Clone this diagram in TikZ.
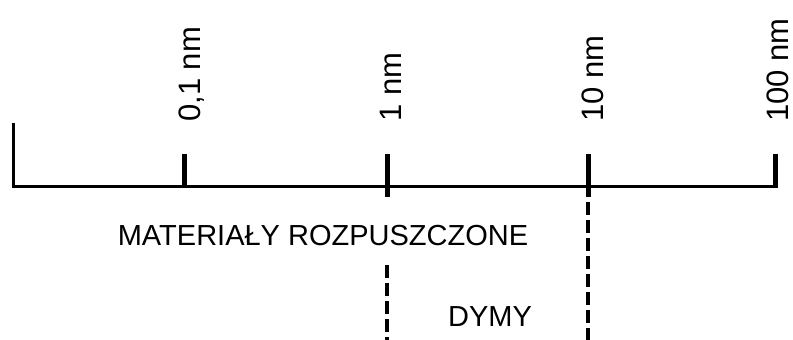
\documentclass[tikz,border=0pt]{standalone}
\usepackage{fontspec}
\setmainfont{Liberation Sans}
\begin{document}
\begin{tikzpicture}[x=1pt,y=-1pt,
  axisline/.style={line width=3pt},
  tickline/.style={line width=5pt},
  dashline/.style={line width=4.5pt,dash pattern=on 13pt off 5pt},
  scalelabel/.style={rotate=90,anchor=base west,inner sep=0pt,font=\fontsize{31}{36}\selectfont},
  rangelabel/.style={inner sep=0pt,font=\fontsize{29}{34}\selectfont}]
\useasboundingbox (0,0) rectangle (793,340);
% axis
\coordinate (L0) at (13,123);
\coordinate (L1) at (13,186);
\coordinate (R1) at (777,186);
\draw[axisline] (L0) -- (L1) -- (R1);
% ticks
\coordinate (a0) at (184,154); \coordinate (a1) at (184,186);
\coordinate (b0) at (387,154); \coordinate (b1) at (387,197);
\coordinate (c0) at (588,154); \coordinate (c1) at (588,197);
\coordinate (d0) at (775,154); \coordinate (d1) at (775,187.5);
\draw[tickline] (a0) -- (a1);
\draw[tickline] (b0) -- (b1);
\draw[tickline] (c0) -- (c1);
\draw[tickline] (d0) -- (d1);
% dashed boundaries
\coordinate (b2) at (387,265); \coordinate (b3) at (387,345);
\coordinate (c2) at (588,202); \coordinate (c3) at (588,345);
\draw[dashline] (b2) -- (b3);
\draw[dashline] (c2) -- (c3);
% scale labels
\node[scalelabel] (la) at (200,122) {0,1 nm};
\node[scalelabel] (lb) at (401,122) {1 nm};
\node[scalelabel] (lc) at (603,122) {10 nm};
\node[scalelabel] (ld) at (788,122) {100 nm};
% range labels
\node[rangelabel] (mat) at (323,236) {MATERIAŁY ROZPUSZCZONE};
\node[rangelabel] (dym) at (490,317) {DYMY};
\end{tikzpicture}
\end{document}
